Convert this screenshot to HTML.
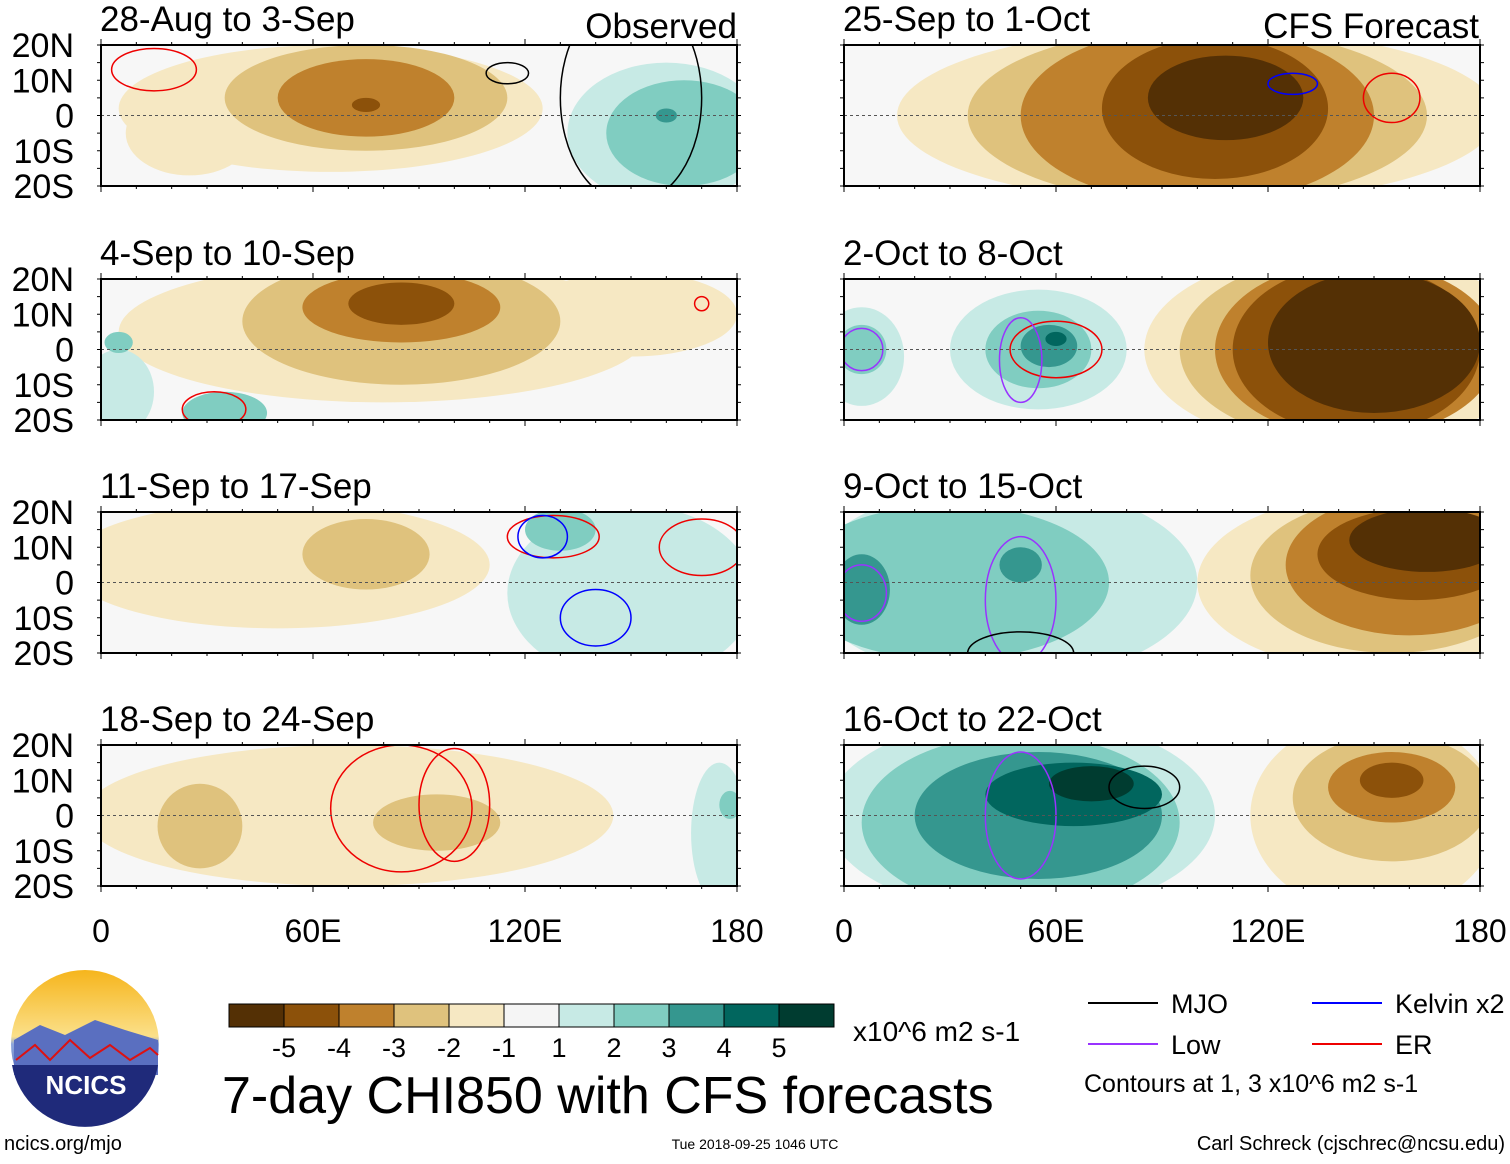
<!DOCTYPE html>
<html><head><meta charset="utf-8">
<style>
body{margin:0;background:#fff;width:1510px;height:1159px;overflow:hidden;font-family:"Liberation Sans",Arial,sans-serif;}
svg text{font-family:"Liberation Sans",Arial,sans-serif;}
</style></head>
<body>
<svg id="fig" width="1510" height="1159" xmlns="http://www.w3.org/2000/svg">
<defs>
<linearGradient id="sky" x1="0" y1="0" x2="0" y2="1">
<stop offset="0" stop-color="#f6b51c"/><stop offset="0.45" stop-color="#fbe08a"/><stop offset="0.5" stop-color="#8ea6dc"/><stop offset="1" stop-color="#2b3f9a"/></linearGradient>
</defs>
</svg>
<script>
const svg=document.getElementById('fig');
const NS='http://www.w3.org/2000/svg';
function mk(tag,attrs,parent){const e=document.createElementNS(NS,tag);for(const k in attrs)e.setAttribute(k,attrs[k]);(parent||svg).appendChild(e);return e;}

// ---- data ----
const panelTitles=['28-Aug to 3-Sep','4-Sep to 10-Sep','11-Sep to 17-Sep','18-Sep to 24-Sep','25-Sep to 1-Oct','2-Oct to 8-Oct','9-Oct to 15-Oct','16-Oct to 22-Oct'];
const latTicks=['20N','10N','0','10S','20S'];
const lonTicks=['0','60E','120E','180'];
const lonTickValues=[0,60,120,180];
const levelLabels=['-5','-4','-3','-2','-1','1','2','3','4','5'];
const levelColors={'-6':'#543005','-5':'#8c510a','-4':'#bf812d','-3':'#dfc27d','-2':'#f6e8c3','2':'#c7eae5','3':'#80cdc1','4':'#35978f','5':'#01665e','6':'#003c30'};
const barColors=['#543005','#8c510a','#bf812d','#dfc27d','#f6e8c3','#f5f5f5','#c7eae5','#80cdc1','#35978f','#01665e','#003c30'];
// anomaly blobs per panel: [centerLon, centerLat, halfWidthLon, halfHeightLat, level]
const blobs1=[[65,2,60,18,-2],[75,5,40,15,-3],[75,5,25,11,-4],[75,3,4,2,-5],[160,-5,28,20,2],[165,-5,22,15,3],[160,0,3,2,4],[25,-5,18,12,-2]];
const blobs2=[[80,5,75,20,-2],[85,8,45,18,-3],[85,12,28,10,-4],[85,13,15,6,-5],[150,10,30,12,-2],[5,-12,10,12,2],[35,-18,12,6,3],[5,2,4,3,3]];
const blobs3=[[50,5,60,18,-2],[75,8,18,10,-3],[150,-3,35,25,2],[130,15,10,6,3]];
const blobs4=[[70,0,75,20,-2],[28,-3,12,12,-3],[95,-2,18,8,-3],[175,-5,8,20,2],[178,3,3,4,3]];
const blobs5=[[100,0,85,25,-2],[100,0,65,25,-3],[100,0,50,25,-4],[105,2,32,20,-5],[108,5,22,12,-6]];
const blobs6=[[140,0,55,28,-2],[140,0,45,26,-3],[145,0,40,25,-4],[145,0,35,24,-5],[150,2,30,20,-6],[55,0,25,17,2],[55,0,15,11,3],[58,1,8,6,4],[60,3,3,2,5],[5,-2,12,14,2],[5,0,7,7,3]];
const blobs7=[[45,0,55,28,2],[30,0,45,22,3],[5,-2,8,10,4],[50,5,6,5,4],[150,0,50,25,-2],[155,2,40,22,-3],[160,5,35,20,-4],[162,8,28,13,-5],[165,12,22,9,-6]];
const blobs8=[[50,0,55,28,2],[50,-2,45,25,3],[55,0,35,18,4],[65,6,25,9,5],[70,9,12,5,6],[150,0,35,28,-2],[155,5,28,18,-3],[155,8,18,10,-4],[155,10,9,5,-5]];
const panelBlobs=[blobs1,blobs2,blobs3,blobs4,blobs5,blobs6,blobs7,blobs8];
// contour lines as ellipses: [lon, lat, halfLon, halfLat, color]
const contours1=[[115,12,6,3,'#000'],[15,13,12,6,'#e00'],[150,5,20,30,'#000']];
const contours2=[[32,-17,9,5,'#e00'],[170,13,2,2,'#e00']];
const contours3=[[128,13,13,6,'#e00'],[125,13,7,6,'#00f'],[140,-10,10,8,'#00f'],[170,10,12,8,'#e00']];
const contours4=[[85,2,20,18,'#e00'],[100,3,10,16,'#e00']];
const contours5=[[127,9,7,3,'#00f'],[155,5,8,7,'#e00']];
const contours6=[[60,0,13,8,'#e00'],[50,-3,6,12,'#9933ff'],[5,0,6,6,'#9933ff']];
const contours7=[[50,-5,10,18,'#9933ff'],[50,-20,15,6,'#000'],[5,-3,7,8,'#9933ff']];
const contours8=[[85,8,10,6,'#000'],[50,0,10,18,'#9933ff']];
const panelContours=[contours1,contours2,contours3,contours4,contours5,contours6,contours7,contours8];

const leftX=[101,844], W=636, H=141, tops=[45,279,512,745];
function xScale(p,lon){return leftX[p]+lon/180*W;}
function yScale(r,lat){return tops[r]+H/2-lat/20*(H/2);}

for(let i=0;i<8;i++){
  const col=i<4?0:1,row=i%4;
  const g=mk('g',{});  
  const cp=mk('clipPath',{id:'cp'+i},g); mk('rect',{x:leftX[col],y:tops[row],width:W,height:H},cp);
  mk('rect',{x:leftX[col],y:tops[row],width:W,height:H,fill:'#f7f7f7'},g);
  const sg=mk('g',{'clip-path':'url(#cp'+i+')'},g);
  const bl=panelBlobs[i].slice().sort((a,b)=>Math.abs(a[4])-Math.abs(b[4]));
  bl.forEach(b=>{
    const e=mk('ellipse',{cx:xScale(col,b[0]),cy:yScale(row,b[1]),rx:b[2]/180*W,ry:b[3]/20*(H/2),fill:levelColors[b[4]]},sg);
     
  });
  panelContours[i].forEach(c=>{
    const e=mk('ellipse',{cx:xScale(col,c[0]),cy:yScale(row,c[1]),rx:c[2]/180*W,ry:c[3]/20*(H/2),fill:'none',stroke:c[4],'stroke-width':1.5},sg);
     
  });
  mk('line',{x1:leftX[col],x2:leftX[col]+W,y1:yScale(row,0),y2:yScale(row,0),stroke:'#555','stroke-dasharray':'3,3','stroke-width':1},g);
  mk('rect',{x:leftX[col],y:tops[row],width:W,height:H,fill:'none',stroke:'#000','stroke-width':2},g);
  for(let lon=0;lon<=180;lon+=10){const x=xScale(col,lon),L=lon%60==0?6:3;
    mk('line',{x1:x,x2:x,y1:tops[row],y2:tops[row]-L,stroke:'#000'},g);mk('line',{x1:x,x2:x,y1:tops[row]+H,y2:tops[row]+H+L,stroke:'#000'},g);}
  for(let lat=-20;lat<=20;lat+=5){const y=yScale(row,lat);
    mk('line',{x1:leftX[col],x2:leftX[col]-4,y1:y,y2:y,stroke:'#000'},g);mk('line',{x1:leftX[col]+W,x2:leftX[col]+W+4,y1:y,y2:y,stroke:'#000'},g);}
  const t=mk('text',{x:leftX[col]-1,y:tops[row]-14,'font-size':35,fill:'#000'},g);t.textContent=panelTitles[i];
   
  if(col==0){latTicks.forEach((lt,k)=>{const tt=mk('text',{x:74,y:yScale(row,20-k*10)+12,'font-size':34,'text-anchor':'end'},g);tt.textContent=lt;
     });}
}
[['Observed',737,38],['CFS Forecast',1479,38]].forEach(a=>{const t=mk('text',{x:a[1],y:a[2],'font-size':35,'text-anchor':'end'});t.textContent=a[0];
   });
[0,1].forEach(col=>lonTicks.forEach((l,k)=>{const t=mk('text',{x:xScale(col,lonTickValues[k]),y:942,'font-size':32,'text-anchor':'middle'});t.textContent=l;
   }));

// colorbar
const cb=mk('g',{});
barColors.forEach((c,k)=>mk('rect',{x:229+k*55,y:1004,width:55,height:23,fill:c,stroke:'#000','stroke-width':1},cb));
levelLabels.forEach((l,k)=>{const t=mk('text',{x:229+(k+1)*55,y:1057,'font-size':27,'text-anchor':'middle'},cb);t.textContent=l;});
let t=mk('text',{x:853,y:1041,'font-size':28});t.textContent='x10^6 m2 s-1';
t=mk('text',{x:222,y:1113,'font-size':52});t.textContent='7-day CHI850 with CFS forecasts';
// legend
const lg=mk('g',{});
[['MJO','#000',1088,1003],['Kelvin x2','#00f',1312,1003],['Low','#9933ff',1088,1044],['ER','#e00',1312,1044]].forEach(a=>{
  mk('line',{x1:a[2],x2:a[2]+70,y1:a[3],y2:a[3],stroke:a[1],'stroke-width':2},lg);
  const tt=mk('text',{x:a[2]+83,y:a[3]+10,'font-size':27},lg);tt.textContent=a[0];});
t=mk('text',{x:1084,y:1092,'font-size':25},lg);t.textContent='Contours at 1, 3 x10^6 m2 s-1';
t=mk('text',{x:4,y:1150,'font-size':20});t.textContent='ncics.org/mjo';
t=mk('text',{x:755,y:1149,'font-size':14,'text-anchor':'middle'});t.textContent='Tue 2018-09-25 1046 UTC';
t=mk('text',{x:1505,y:1150,'font-size':20,'text-anchor':'end'});t.textContent='Carl Schreck (cjschrec@ncsu.edu)';
// logo
const lo=mk('g',{});
mk('circle',{cx:85,cy:1044,r:74,fill:'url(#sky)'},lo);
mk('path',{d:'M14,1040 L40,1025 L65,1035 L95,1020 L125,1030 L158,1040 L158,1075 L14,1075 Z',fill:'#5a6fc0'},lo);
mk('path',{d:'M16,1060 L35,1045 L50,1060 L70,1040 L90,1058 L110,1045 L130,1060 L150,1048 L158,1055',fill:'none',stroke:'#d11','stroke-width':2},lo);
mk('path',{d:'M12,1065 L158,1065 A74,74 0 0 1 12,1065 Z',fill:'#1f2a7a'},lo);
t=mk('text',{x:86,y:1094,'font-size':26,'font-weight':'bold','text-anchor':'middle',fill:'#fff'},lo);t.textContent='NCICS';
</script>
</body></html>
